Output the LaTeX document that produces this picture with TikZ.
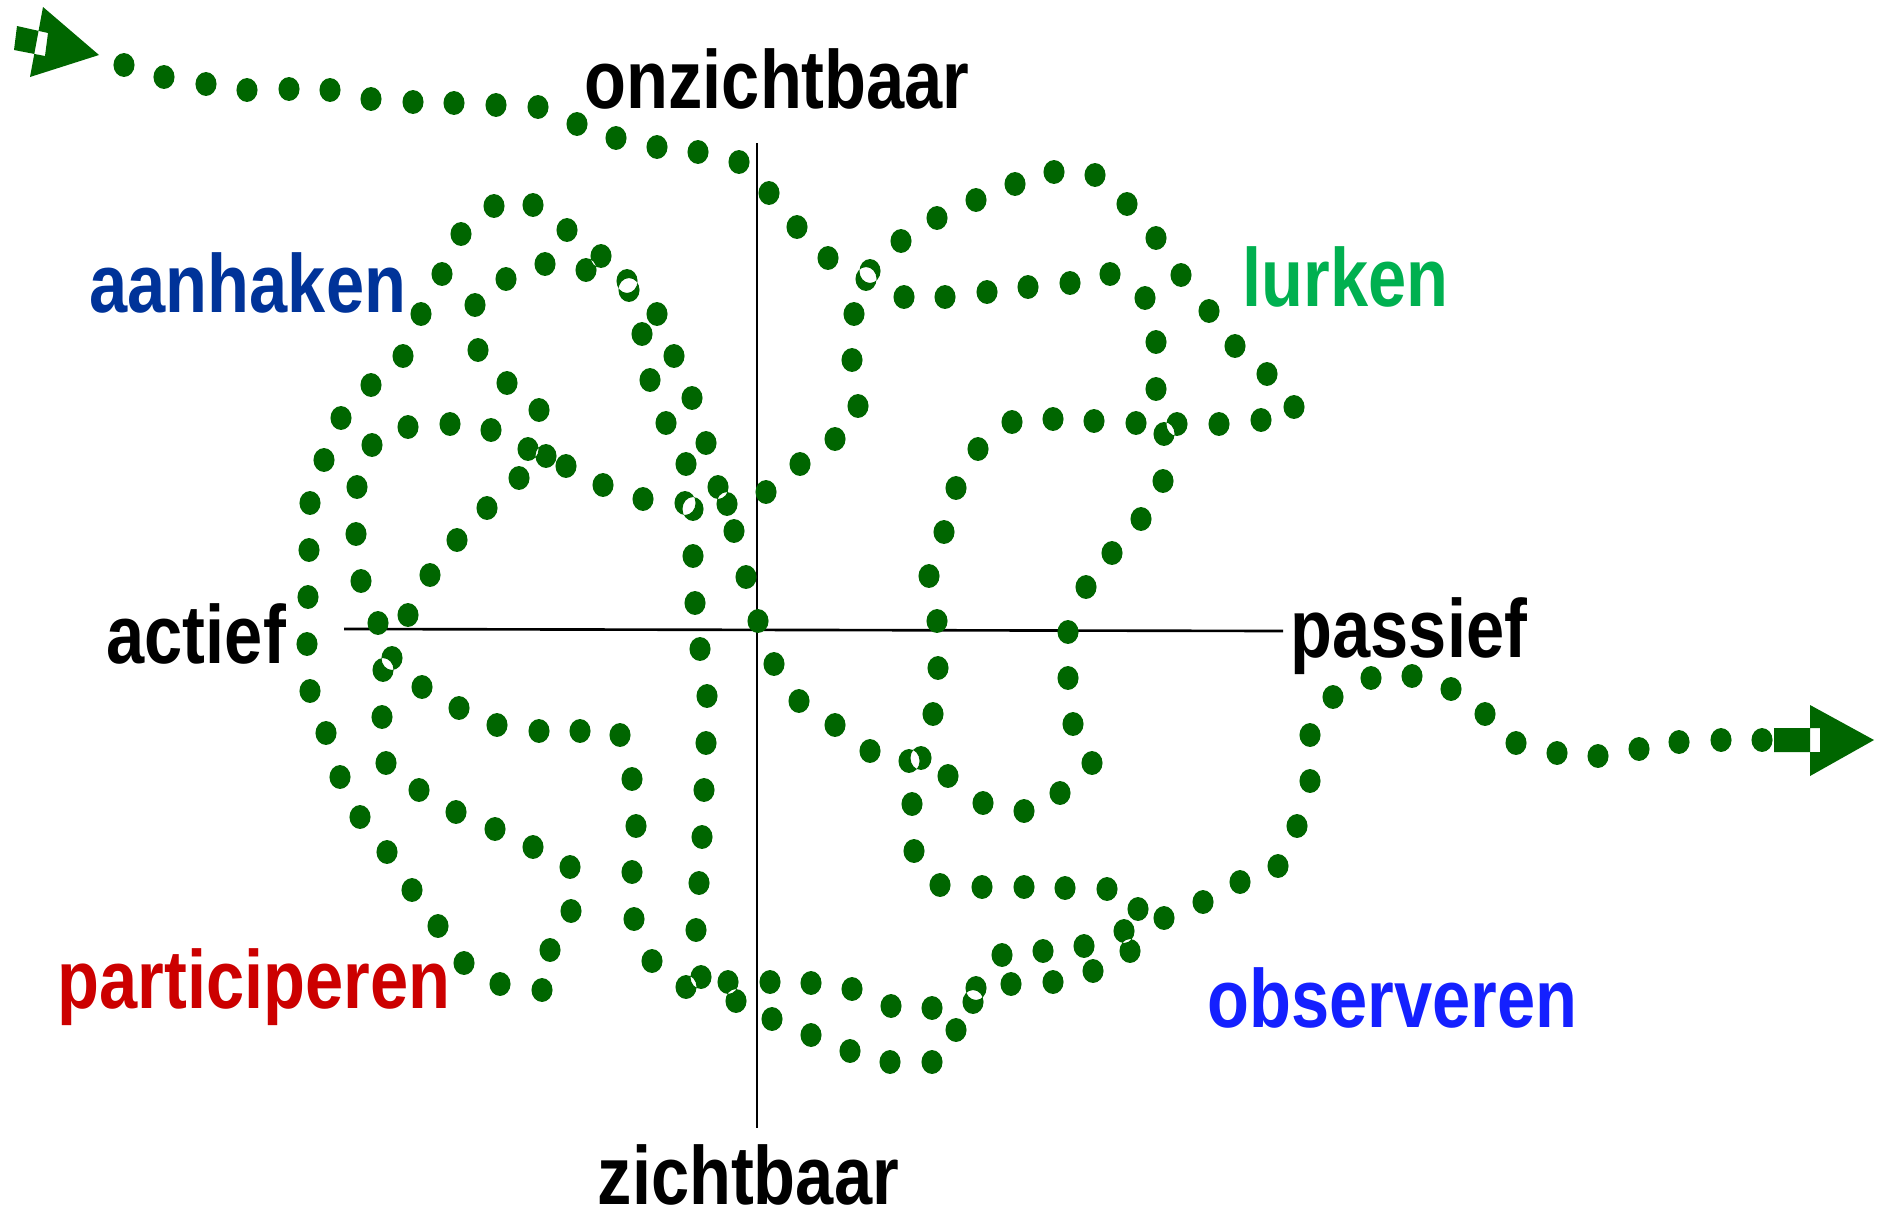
\documentclass[tikz,border=0pt]{standalone}
\usepackage{fontspec}
\newfontfamily\labelfont[FakeStretch=0.83]{Liberation Sans}

\definecolor{dotgreen}{RGB}{0,102,0}
\definecolor{haakblue}{RGB}{0,51,153}
\definecolor{lurkgreen}{RGB}{0,176,80}
\definecolor{partred}{RGB}{204,0,0}
\definecolor{obsblue}{RGB}{20,32,255}

\tikzset{
  lbl/.style={inner sep=0pt, anchor=base west, font=\labelfont\bfseries\fontsize{23.5}{28}\selectfont},
  axisline/.style={line width=0.75pt},
  greendots/.style={fill=dotgreen, even odd rule},
}

\begin{document}
\begin{tikzpicture}[x=0.01cm, y=-0.01cm]
  \useasboundingbox (0,0) rectangle (1880,1221);

  % 軸をかく
  \coordinate (top) at (757,143);
  \coordinate (bottom) at (757,1128);
  \coordinate (left) at (344,629);
  \coordinate (right) at (1283,631);
  \draw[axisline] (top) -- (bottom);
  \draw[axisline] (left) -- (right);

  % ラベルをはる
  \node[lbl] (onzichtbaar) at (584,108) {onzichtbaar};
  \node[lbl] (zichtbaar) at (597,1204) {zichtbaar};
  \node[lbl] (actief) at (106,663) {actief};
  \node[lbl] (passief) at (1290,657) {passief};
  \node[lbl, text=haakblue] (aanhaken) at (89,312) {aanhaken};
  \node[lbl, text=lurkgreen] (lurken) at (1242,306) {lurken};
  \node[lbl, text=partred] (participeren) at (57,1008) {participeren};
  \node[lbl, text=obsblue] (observeren) at (1207,1027) {observeren};

  % 点線をかく
  \fill[greendots] \foreach \x/\y in {
      124/65, 164/77, 206/84, 247/90, 289/89, 330/90, 371/99, 413/102,
      454/103, 496/105, 538/107, 577/124, 616/138, 657/147, 698/152, 739/162,
      769/193, 797/227, 828/258, 866/279, 904/297, 945/297, 987/292, 1028/287,
      1070/283, 1110/274, 1145/298, 1156/342, 1156/389, 1164/434, 1163/481,
      1141/519, 1112/553, 1086/587, 1068/632, 1068/678, 1073/724, 1092/763,
      1060/793, 1024/811, 983/803, 948/776, 921/758, 870/751, 835/725,
      799/701, 774/664, 758/621, 746/577, 734/531, 727/504, 706/443, 692/398,
      674/356, 657/314, 627/281,
      629/290, 601/256, 567/230, 533/205, 494/206, 461/234, 442/274, 421/314,
      403/356, 371/385, 341/418, 324/460, 310/503, 309/550, 308/597, 307/644,
      310/691, 326/733, 340/777, 360/817, 387/852, 412/890, 438/926, 464/963,
      500/984, 542/990, 550/950, 571/911, 570/867, 533/847, 495/829, 456/812,
      419/790, 386/763, 382/717, 383/670, 392/658, 422/687, 459/708, 497/725,
      539/731, 580/731, 620/735, 632/779, 636/826, 632/872, 634/919, 652/961,
      686/987, 701/977, 728/982, 736/1001, 770/982, 811/983, 852/989, 891/1006,
      932/1008, 976/988, 973/1002, 1011/984, 1053/982, 1093/971, 1130/951,
      1124/931, 1084/946, 1043/951, 1002/955, 956/1030, 932/1062, 890/1062,
      850/1051, 811/1035, 772/1019,
      586/270, 545/264, 506/279, 475/305, 478/350, 507/383, 539/410, 528/449,
      546/456, 566/466, 603/485, 643/499, 685/503, 693/509, 718/487, 766/492,
      800/464, 835/439, 858/406, 852/360, 854/314, 870/271, 901/241, 937/218,
      976/200, 1015/184, 1054/172, 1095/175, 1127/204, 1156/238, 1181/275,
      1209/311, 1235/346, 1267/374, 1294/407, 1261/420, 1219/424, 1177/424,
      1136/423, 1094/421, 1053/419, 1012/422, 978/449, 956/488, 944/532,
      929/576, 937/621, 938/668, 933/714, 909/761, 912/804, 914/851, 940/885,
      982/887, 1024/887, 1065/888, 1107/889, 1138/909, 1164/918, 1203/902,
      1240/882, 1278/866, 1297/826, 1310/781, 1310/735, 1333/697, 1371/678,
      1412/676, 1451/689, 1485/714, 1516/743, 1557/753, 1598/756, 1639/749,
      1679/742, 1721/740, 1762/740,
      642/334, 650/380, 666/423, 686/464, 693/556, 695/603, 700/649, 707/696,
      706/743, 704/790, 702/837, 699/883, 696/930,
      408/427, 450/424, 491/430, 519/478, 487/508, 457/540, 430/575, 408/615,
      378/623, 372/445, 357/487, 356/534, 361/581}
    {(\x,\y) ellipse [x radius=3pt, y radius=3.4pt]};

  % 矢印
  \fill[greendots] (17,26) -- (48,33) -- (45,56) -- (14,50) -- cycle
    (43,7) -- (99,55) -- (30,77) -- cycle;
  \fill[greendots] (1774,728) rectangle (1820,752)
    (1810,705) -- (1874,740) -- (1810,776) -- cycle;
\end{tikzpicture}
\end{document}
